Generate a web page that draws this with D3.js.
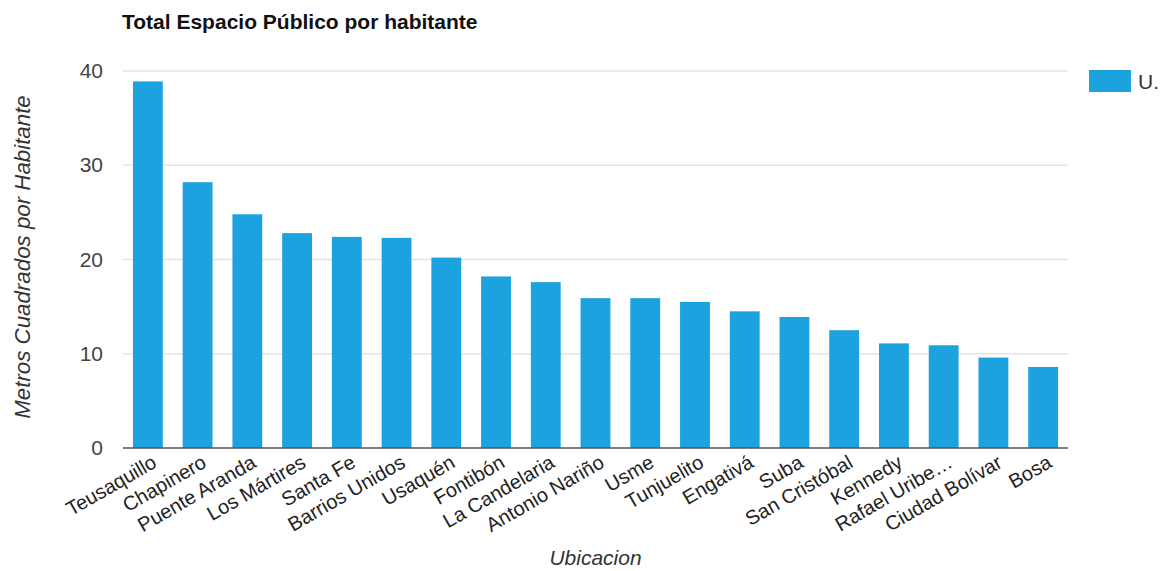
<!DOCTYPE html>
<html>
<head>
<meta charset="utf-8">
<script src="https://cdn.jsdelivr.net/npm/d3@7"></script>
<style>
  html, body { margin: 0; padding: 0; background: #fff; }
  svg { display: block; font-family: "Liberation Sans", Arial, sans-serif; }
</style>
</head>
<body>
<svg id="chart" width="1161" height="571"></svg>
<script>
const categories = ["Teusaquillo", "Chapinero", "Puente Aranda", "Los Mártires", "Santa Fe",
  "Barrios Unidos", "Usaquén", "Fontibón", "La Candelaria", "Antonio Nariño", "Usme",
  "Tunjuelito", "Engativá", "Suba", "San Cristóbal", "Kennedy", "Rafael Uribe…",
  "Ciudad Bolívar", "Bosa"];
const values = [38.9, 28.2, 24.8, 22.8, 22.4, 22.3, 20.2, 18.2, 17.6, 15.9, 15.9,
  15.5, 14.5, 13.9, 12.5, 11.1, 10.9, 9.6, 8.6];
const yTicks = [0, 10, 20, 30, 40];
const seriesName = "U.";
const titleText = "Total Espacio Público por habitante";
const xTitle = "Ubicacion";
const yTitle = "Metros Cuadrados por Habitante";

const svg = d3.select("#chart");
const plotLeft = 123, plotRight = 1068, plotTop = 71, plotBottom = 448;
const barColor = "#1ca2de";

const x = d3.scaleBand().domain(categories).range([plotLeft, plotRight])
  .paddingInner(0.4).paddingOuter(0.2);
const y = d3.scaleLinear().domain([0, 40]).range([plotBottom, plotTop]);

// gridlines
svg.append("g").selectAll("line").data(yTicks.filter(d => d !== 0)).join("line")
  .attr("x1", plotLeft).attr("x2", plotRight)
  .attr("y1", d => y(d)).attr("y2", d => y(d))
  .attr("stroke", "#e4e4e4").attr("stroke-width", 1.5);

// bars
svg.append("g").selectAll("rect").data(values).join("rect")
  .attr("x", (d, i) => x(categories[i]))
  .attr("width", x.bandwidth())
  .attr("y", d => y(d))
  .attr("height", d => y(0) - y(d))
  .attr("fill", barColor);

// baseline
svg.append("line").attr("x1", plotLeft).attr("x2", plotRight)
  .attr("y1", y(0)).attr("y2", y(0))
  .attr("stroke", "#555").attr("stroke-width", 1.5);

// y axis labels
const yAxis = d3.axisLeft(y).tickValues(yTicks).tickSize(0).tickPadding(20);
const yg = svg.append("g").attr("transform", `translate(${plotLeft},0)`).call(yAxis);
yg.select(".domain").remove();
yg.selectAll("text").attr("font-size", 21).attr("fill", "#444")
  .attr("font-family", "Liberation Sans, Arial, sans-serif");

// x axis labels
const xAxis = d3.axisBottom(x).tickSize(0).tickPadding(0);
const xg = svg.append("g").attr("transform", `translate(0,${plotBottom})`).call(xAxis);
xg.select(".domain").remove();
xg.selectAll(".tick text")
  .attr("font-size", 20).attr("fill", "#222")
  .attr("font-family", "Liberation Sans, Arial, sans-serif")
  .attr("text-anchor", "end")
  .attr("y", 0).attr("dy", "0.71em")
  .attr("transform", "translate(3,6) rotate(-30)");

// title
svg.append("text").attr("x", 122).attr("y", 29)
  .attr("font-size", 21).attr("font-weight", "bold").attr("fill", "#111")
  .text(titleText);

// axis titles
svg.append("text").attr("x", (plotLeft + plotRight) / 2).attr("y", 565)
  .attr("text-anchor", "middle").attr("font-size", 21).attr("font-style", "italic")
  .attr("fill", "#333").text(xTitle);
svg.append("text").attr("transform", "translate(30,257) rotate(-90)")
  .attr("text-anchor", "middle").attr("font-size", 22.3).attr("font-style", "italic")
  .attr("fill", "#333").text(yTitle);

// legend
const lg = svg.append("g").attr("transform", "translate(1089,70)");
lg.append("rect").attr("width", 42).attr("height", 22).attr("fill", barColor);
lg.append("text").attr("x", 49).attr("y", 11).attr("dy", "0.36em")
  .attr("font-size", 21).attr("fill", "#333").text(seriesName);
</script>
</body>
</html>
